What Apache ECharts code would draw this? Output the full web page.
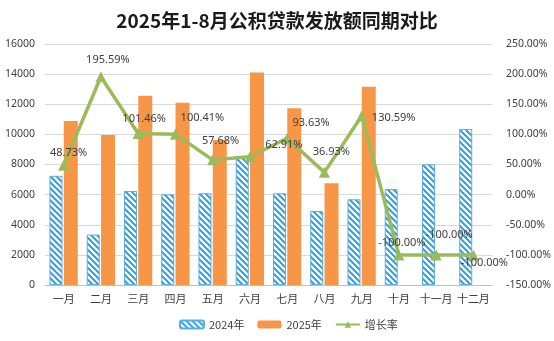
<!DOCTYPE html>
<html><head><meta charset="utf-8">
<script src="https://cdn.jsdelivr.net/npm/echarts@6/dist/echarts.min.js"></script>
<style>html,body{margin:0;padding:0;background:#fff}#c{width:554px;height:341px}</style>
</head><body><div id="c"></div>
<script>
const categories = ['一月','二月','三月','四月','五月','六月','七月','八月','九月','十月','十一月','十二月'];
const values2024 = [7250, 3350, 6240, 6020, 6090, 8550, 6090, 4910, 5690, 6370, 8010, 10360];
const values2025 = [10890, 9960, 12570, 12100, 9630, 14100, 11730, 6750, 13170, null, null, null];
const growthRate = [48.73, 195.59, 101.46, 100.41, 57.68, 62.91, 93.63, 36.93, 130.59, -100, -100, -100];
const leftTicks = [0, 16000, 2000];
const rightTicks = [-150, 250, 50];
const labelOffsets = [[5,4],[7,-1],[6,1],[27,0],[8,-3],[34,4],[24,1],[7,-5],[32,18],[3,4],[13,-4],[11,24]];

function hatch(){
  const c = document.createElement('canvas');
  c.width = 6; c.height = 6;
  const g = c.getContext('2d');
  g.fillStyle = '#fff'; g.fillRect(0,0,6,6);
  g.strokeStyle = '#2f9fe0'; g.lineWidth = 2;
  g.beginPath();
  g.moveTo(-3,-3); g.lineTo(9,9);
  g.moveTo(-3,3); g.lineTo(3,9);
  g.moveTo(3,-3); g.lineTo(9,3);
  g.stroke();
  return c;
}
const chart = echarts.init(document.getElementById('c'), null, {renderer:'canvas'});
const txt = '#404040';
chart.setOption({
  animation:false,
  textStyle:{fontFamily:'"Noto Sans", "Noto Sans CJK SC", sans-serif'},
  title:{text:'2025年1-8月公积贷款发放额同期对比', left:'center', top:6,
    textStyle:{fontSize:19, fontWeight:'bold', color:'#1a1a1a', fontFamily:'"Noto Sans CJK SC", sans-serif'}},
  grid:{left:45, right:62, top:44, bottom:56},
  legend:{bottom:6, left:174, itemWidth:24, itemHeight:8, itemGap:13,
    textStyle:{fontSize:11, color:txt, fontFamily:'"Noto Sans CJK SC", sans-serif'}},
  xAxis:{type:'category', data:categories,
    axisLine:{lineStyle:{color:'#bfbfbf'}}, axisTick:{show:false},
    axisLabel:{color:txt, fontSize:11, interval:0, margin:8, fontFamily:'"Noto Sans CJK SC", sans-serif'}},
  yAxis:[
    {type:'value', min:leftTicks[0], max:leftTicks[1], interval:leftTicks[2],
     axisLine:{show:false}, axisTick:{show:false},
     splitLine:{lineStyle:{color:'#d9d9d9'}},
     axisLabel:{color:txt, fontSize:10.5, margin:10, formatter:v=>String(v)}},
    {type:'value', min:rightTicks[0], max:rightTicks[1], interval:rightTicks[2],
     axisLine:{show:false}, axisTick:{show:false}, splitLine:{show:false},
     axisLabel:{color:txt, fontSize:10.5, margin:14, formatter:v=>v.toFixed(2)+'%'}}
  ],
  series:[
    {name:'2024年', type:'bar', data:values2024, barWidth:13, barGap:'10%',
     itemStyle:{color:{image:hatch(), repeat:'repeat'}, borderColor:'#5aaee6', borderWidth:1}},
    {name:'2025年', type:'bar', data:values2025, barWidth:14,
     itemStyle:{color:'#f79646'}},
    {name:'增长率', type:'line', yAxisIndex:1, data:growthRate.map((v,i)=>({value:v,
       label:{offset:labelOffsets[i]}})),
     lineStyle:{color:'#9bbb59', width:3.5}, itemStyle:{color:'#9bbb59'},
     symbol:'triangle', symbolSize:11, showAllSymbol:true,
     label:{show:true, position:'top', color:txt, fontSize:11, formatter:p=>p.value.toFixed(2)+'%'}}
  ]
});
</script></body></html>
